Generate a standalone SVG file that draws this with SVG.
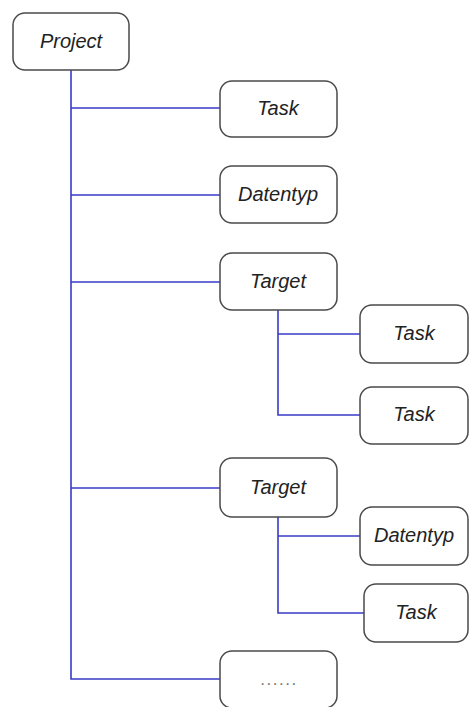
<svg xmlns="http://www.w3.org/2000/svg" width="469" height="707" viewBox="0 0 469 707">
  <style>
    .box { fill: #ffffff; stroke: #4a4a4a; stroke-width: 1.5; }
    .lbl { font-family: "Liberation Sans", Arial, sans-serif; font-style: italic; font-size: 20px; fill: #222222; text-anchor: middle; }
    .dots { font-family: "Liberation Sans", Arial, sans-serif; font-size: 17px; fill: #777777; text-anchor: middle; letter-spacing: 1.5px; }
    .wire { fill: none; stroke: #3a3ac8; stroke-width: 1.6; }
  </style>
  <rect width="469" height="707" fill="#ffffff"/>

  <!-- connectors -->
  <g id="connectors">
    <path class="wire" d="M71,70 V679 H220"/>
    <path class="wire" d="M71,108 H220"/>
    <path class="wire" d="M71,195 H220"/>
    <path class="wire" d="M71,282 H220"/>
    <path class="wire" d="M71,488 H220"/>
    <path class="wire" d="M278,310 V415 H360"/>
    <path class="wire" d="M278,334 H360"/>
    <path class="wire" d="M278,517 V613 H364"/>
    <path class="wire" d="M278,536 H360"/>
  </g>

  <!-- nodes -->
  <g id="project">
    <rect class="box" x="13" y="13" width="116" height="57" rx="12"/>
    <text class="lbl" x="71" y="48">Project</text>
  </g>
  <g id="task1">
    <rect class="box" x="220" y="81" width="117" height="56" rx="12"/>
    <text class="lbl" x="278" y="115">Task</text>
  </g>
  <g id="datentyp1">
    <rect class="box" x="220" y="166" width="117" height="57" rx="12"/>
    <text class="lbl" x="278" y="201">Datentyp</text>
  </g>
  <g id="target1">
    <rect class="box" x="220" y="253" width="117" height="57" rx="12"/>
    <text class="lbl" x="278" y="288">Target</text>
  </g>
  <g id="target1-task1">
    <rect class="box" x="360" y="305" width="108" height="58" rx="12"/>
    <text class="lbl" x="414" y="340">Task</text>
  </g>
  <g id="target1-task2">
    <rect class="box" x="360" y="387" width="108" height="57" rx="12"/>
    <text class="lbl" x="414" y="421">Task</text>
  </g>
  <g id="target2">
    <rect class="box" x="220" y="458" width="117" height="59" rx="12"/>
    <text class="lbl" x="278" y="494">Target</text>
  </g>
  <g id="target2-datentyp">
    <rect class="box" x="360" y="507" width="108" height="58" rx="12"/>
    <text class="lbl" x="414" y="542">Datentyp</text>
  </g>
  <g id="target2-task">
    <rect class="box" x="364" y="584" width="104" height="58" rx="12"/>
    <text class="lbl" x="416" y="619">Task</text>
  </g>
  <g id="more">
    <rect class="box" x="220" y="651" width="117" height="57" rx="12"/>
    <text class="dots" x="279" y="685">......</text>
  </g>
</svg>
